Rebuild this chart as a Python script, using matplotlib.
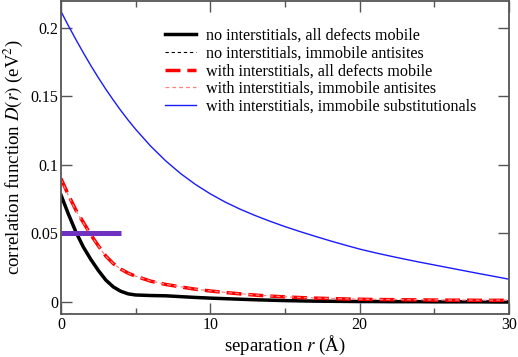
import numpy as np
import matplotlib
matplotlib.use("Agg")
import matplotlib.pyplot as plt
from matplotlib.ticker import MultipleLocator, FormatStrFormatter

plt.rcParams['font.family'] = ['Liberation Serif', 'DejaVu Serif']
plt.rcParams['mathtext.fontset'] = 'stix'

# separation r (Angstrom)
r_vals = [0, 0.5, 1.0, 1.5, 2.0, 2.5, 3.0, 3.5, 4.0, 4.5, 5.0,
          6, 7, 8, 9, 10, 11, 12, 13, 14, 15, 16, 17, 18, 19, 20,
          21, 22, 23, 24, 25, 26, 27, 28, 29, 30]

no_int_all_mobile = [0.078, 0.064, 0.051, 0.040, 0.031, 0.023, 0.0160, 0.0110, 0.0078, 0.0059, 0.0051,
                     0.0047, 0.0045, 0.0039, 0.0033, 0.0028, 0.0024, 0.0020, 0.0016, 0.0013, 0.0010,
                     0.0008, 0.0006, 0.0005, 0.0004, 0.0003,
                     0.0003, 0.0002, 0.0002, 0.0002, 0.0001, 0.0001, 0.0001, 0.0001, 0.0000, 0.0000]
no_int_immobile_antisites = [0.077, 0.063, 0.050, 0.0395, 0.0305, 0.0226, 0.0157, 0.0108, 0.0077, 0.0058, 0.0050,
                             0.0046, 0.0044, 0.0038, 0.0033, 0.0028, 0.0024, 0.0020, 0.0016, 0.0013, 0.0010,
                             0.0008, 0.0006, 0.0005, 0.0004, 0.0003,
                             0.0003, 0.0002, 0.0002, 0.0002, 0.0001, 0.0001, 0.0001, 0.0001, 0.0000, 0.0000]
int_all_mobile = [0.090, 0.078, 0.067, 0.058, 0.049, 0.041, 0.0335, 0.028, 0.0240, 0.0210, 0.0188,
                  0.0152, 0.0128, 0.0110, 0.0093, 0.0080, 0.0069, 0.0059, 0.0050, 0.0043, 0.0037,
                  0.0032, 0.0028, 0.0025, 0.0022, 0.0020,
                  0.0018, 0.0017, 0.0016, 0.0015, 0.0014, 0.0013, 0.0013, 0.0012, 0.0012, 0.0012]
int_immobile_antisites = [0.0895, 0.0775, 0.0665, 0.0576, 0.0487, 0.0408, 0.0334, 0.0279, 0.0240, 0.0210, 0.0188,
                          0.0153, 0.0129, 0.0111, 0.0094, 0.0081, 0.0070, 0.0060, 0.0051, 0.0044, 0.0038,
                          0.0033, 0.0029, 0.0026, 0.0023, 0.0021,
                          0.0019, 0.0018, 0.0017, 0.0016, 0.0015, 0.0014, 0.0014, 0.0013, 0.0013, 0.0013]
int_immobile_subst = [0.212, 0.2015, 0.1915, 0.1818, 0.1725, 0.1637, 0.1553, 0.1474, 0.1398, 0.1327, 0.1260,
                      0.1138, 0.1031, 0.0938, 0.0858, 0.0789, 0.0729, 0.0677, 0.0631, 0.0589, 0.0550,
                      0.0514, 0.0480, 0.0447, 0.0416, 0.0386,
                      0.0360, 0.0336, 0.0313, 0.0291, 0.0270, 0.0249, 0.0228, 0.0207, 0.0187, 0.0166]

bar_r = [0, 4.0]
bar_val = 0.05

labels = ["no interstitials, all defects mobile",
          "no interstitials, immobile antisites",
          "with interstitials, all defects mobile",
          "with interstitials, immobile antisites",
          "with interstitials, immobile substitutionals"]

fig = plt.figure(figsize=(5.18, 3.57), dpi=100)
ax = fig.add_axes([0.1178, 0.1204, 0.8648, 0.8768])

ax.plot(r_vals, no_int_all_mobile, color='black', lw=2.5, label=labels[0])
ax.plot(r_vals, no_int_immobile_antisites, color='black', lw=0.8, ls=(0, (3, 2.5)), label=labels[1])
ax.plot(r_vals, int_all_mobile, color='#ff0000', lw=2.5, ls=(0, (4.3, 2)), label=labels[2])
ax.plot(r_vals, int_immobile_antisites, color='#ff8080', lw=0.9, ls=(0, (3, 2.5)), label=labels[3])
ax.plot(r_vals, int_immobile_subst, color='#1a1aff', lw=1.0, label=labels[4])
ax.plot(bar_r, [bar_val, bar_val], color='#7030c0', lw=3.6, solid_capstyle='butt')

ax.set_xlim(0, 30)
ax.set_ylim(-0.0088, 0.2197)
ax.xaxis.set_major_locator(MultipleLocator(10))
ax.xaxis.set_minor_locator(MultipleLocator(5))
ax.yaxis.set_major_locator(MultipleLocator(0.05))
ax.yaxis.set_major_formatter(FormatStrFormatter('%g'))
ax.tick_params(which='both', direction='in', top=True, right=True, labelsize=11.5, color='#555555', pad=2)
ax.tick_params(which='major', length=8, width=1)
ax.tick_params(which='minor', length=4, width=1)
for s in ax.spines.values():
    s.set_color('#555555')
    s.set_linewidth(1.3)

ax.set_xlabel(r'separation $r$ (Å)', fontsize=13.6, labelpad=1)
ax.set_ylabel(r'correlation function $D(r)$ (eV$^2$)', fontsize=13.6, labelpad=4)

leg = ax.legend(loc='upper left', bbox_to_anchor=(0.232, 0.916), frameon=False, fontsize=11.6,
                borderpad=0, borderaxespad=0,
                handlelength=1.95, handletextpad=0.61, labelspacing=0.12)

fig.savefig('out.png', dpi=100)
